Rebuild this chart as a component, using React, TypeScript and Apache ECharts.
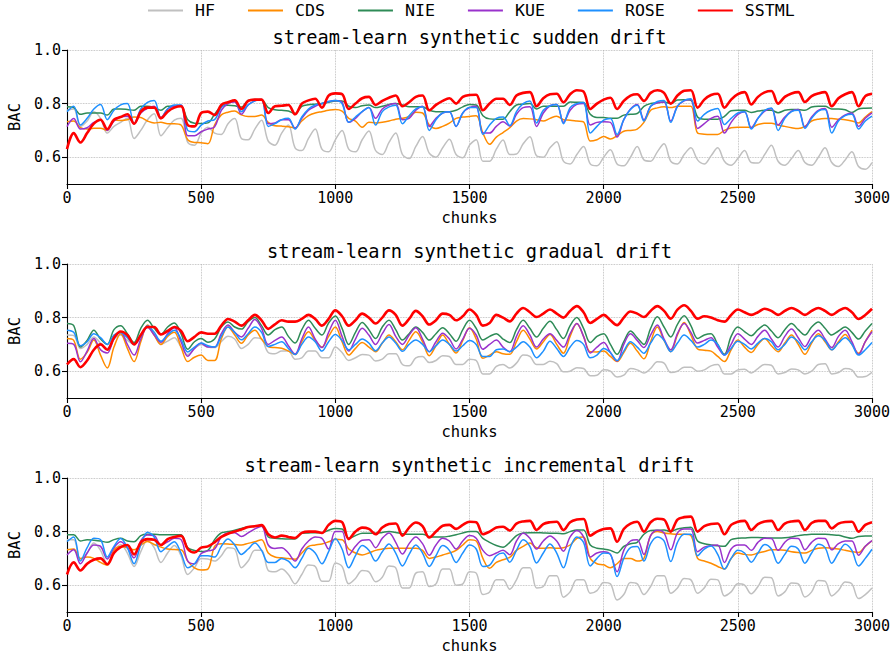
import React, { useEffect, useRef } from "react";
import * as echarts from "echarts";

// chunk positions at which the curves were read (every 25 chunks, 0..3000)
const chunks: number[] = Array.from({ length: 121 }, (_, i) => i * 25);

const methods = ["HF", "CDS", "NIE", "KUE", "ROSE", "SSTML"];
const colors = ["#c0c0c0", "#ff8c00", "#2e8b57", "#9932cc", "#1e90ff", "#ff0000"];
const titles = [
  "stream-learn synthetic sudden drift",
  "stream-learn synthetic gradual drift",
  "stream-learn synthetic incremental drift",
];
const xTicks = [0, 500, 1000, 1500, 2000, 2500, 3000];
const yTicks = [0.6, 0.8, 1.0];

// ---------- sudden drift ----------
const suddenHF = [
  0.775,0.78,0.715,0.735,0.77,0.745,0.69,0.715,0.73,0.745,0.67,0.70,0.74,0.762,0.68,0.71,0.738,0.745,0.655,0.645,
  0.69,0.712,0.69,0.685,0.725,0.744,0.67,0.665,0.705,0.738,0.66,0.645,0.69,0.72,0.635,0.625,0.67,0.705,0.63,0.62,
  0.665,0.70,0.63,0.62,0.665,0.698,0.625,0.61,0.655,0.69,0.61,0.595,0.64,0.677,0.615,0.60,0.635,0.667,0.61,0.598,
  0.645,0.665,0.585,0.585,0.63,0.664,0.61,0.612,0.65,0.676,0.605,0.60,0.635,0.658,0.585,0.575,0.61,0.64,0.575,0.568,
  0.60,0.628,0.575,0.568,0.60,0.64,0.59,0.585,0.62,0.65,0.585,0.575,0.61,0.635,0.59,0.575,0.605,0.635,0.585,0.57,
  0.595,0.625,0.58,0.578,0.61,0.645,0.585,0.57,0.595,0.625,0.58,0.57,0.60,0.635,0.58,0.565,0.59,0.62,0.565,0.555,
  0.58,
];
const suddenCDS = [
  0.732,0.735,0.71,0.705,0.708,0.708,0.70,0.738,0.737,0.74,0.75,0.748,0.735,0.728,0.73,0.725,0.725,0.72,0.665,0.655,
  0.654,0.65,0.72,0.758,0.768,0.772,0.758,0.752,0.752,0.757,0.73,0.717,0.716,0.714,0.71,0.735,0.755,0.765,0.77,0.775,
  0.778,0.772,0.745,0.735,0.712,0.73,0.728,0.73,0.735,0.742,0.745,0.752,0.768,0.765,0.72,0.707,0.715,0.727,0.745,0.75,
  0.752,0.755,0.69,0.648,0.675,0.692,0.71,0.735,0.744,0.743,0.74,0.735,0.745,0.753,0.74,0.738,0.735,0.732,0.66,0.665,
  0.677,0.668,0.68,0.697,0.70,0.705,0.73,0.775,0.784,0.788,0.785,0.79,0.79,0.79,0.69,0.686,0.685,0.685,0.70,0.71,
  0.712,0.712,0.711,0.722,0.727,0.727,0.72,0.715,0.71,0.707,0.715,0.735,0.742,0.744,0.744,0.742,0.74,0.735,0.728,0.75,
  0.77,
];
const suddenNIE = [
  0.788,0.785,0.76,0.765,0.765,0.765,0.757,0.78,0.78,0.778,0.775,0.79,0.79,0.785,0.775,0.79,0.79,0.79,0.74,0.727,
  0.726,0.728,0.76,0.79,0.794,0.792,0.787,0.812,0.815,0.814,0.785,0.777,0.775,0.772,0.763,0.79,0.796,0.798,0.80,0.805,
  0.81,0.81,0.79,0.785,0.792,0.795,0.785,0.79,0.797,0.80,0.795,0.788,0.788,0.788,0.775,0.77,0.77,0.77,0.775,0.788,
  0.797,0.795,0.755,0.743,0.742,0.742,0.77,0.795,0.798,0.80,0.78,0.79,0.79,0.79,0.79,0.806,0.805,0.804,0.76,0.748,
  0.748,0.745,0.745,0.757,0.76,0.763,0.79,0.80,0.803,0.806,0.80,0.813,0.814,0.812,0.75,0.742,0.742,0.742,0.752,0.773,
  0.775,0.775,0.767,0.772,0.775,0.775,0.766,0.775,0.778,0.778,0.775,0.787,0.79,0.79,0.78,0.78,0.777,0.767,0.78,0.783,
  0.784,
];
const suddenKUE = [
  0.714,0.744,0.705,0.71,0.73,0.738,0.70,0.735,0.75,0.753,0.725,0.765,0.782,0.79,0.748,0.78,0.79,0.794,0.68,0.68,
  0.695,0.705,0.713,0.775,0.80,0.806,0.76,0.795,0.81,0.815,0.725,0.728,0.74,0.74,0.708,0.745,0.775,0.79,0.80,0.808,
  0.812,0.805,0.73,0.745,0.77,0.785,0.745,0.78,0.795,0.80,0.74,0.745,0.775,0.79,0.715,0.745,0.765,0.77,0.715,0.765,
  0.785,0.79,0.69,0.69,0.715,0.732,0.716,0.76,0.785,0.788,0.715,0.765,0.792,0.797,0.73,0.775,0.797,0.80,0.72,0.73,
  0.732,0.73,0.675,0.74,0.78,0.797,0.74,0.79,0.803,0.806,0.735,0.79,0.81,0.815,0.707,0.725,0.745,0.753,0.69,0.73,
  0.76,0.77,0.71,0.745,0.772,0.782,0.72,0.75,0.772,0.778,0.713,0.75,0.775,0.782,0.712,0.74,0.758,0.765,0.715,0.745,
  0.765,
];
const suddenROSE = [
  0.77,0.79,0.72,0.745,0.78,0.797,0.74,0.775,0.795,0.80,0.725,0.78,0.805,0.812,0.745,0.78,0.795,0.795,0.70,0.695,
  0.72,0.735,0.74,0.785,0.805,0.81,0.77,0.795,0.81,0.815,0.715,0.725,0.74,0.745,0.705,0.75,0.78,0.795,0.80,0.808,
  0.812,0.80,0.73,0.75,0.77,0.785,0.72,0.77,0.788,0.794,0.725,0.755,0.78,0.788,0.70,0.74,0.765,0.77,0.715,0.765,
  0.785,0.785,0.685,0.72,0.745,0.75,0.718,0.77,0.80,0.81,0.728,0.775,0.792,0.797,0.725,0.785,0.80,0.804,0.69,0.715,
  0.738,0.744,0.685,0.74,0.778,0.794,0.735,0.79,0.808,0.812,0.73,0.79,0.812,0.818,0.735,0.76,0.775,0.782,0.722,0.745,
  0.765,0.77,0.705,0.745,0.775,0.784,0.70,0.745,0.77,0.775,0.708,0.745,0.772,0.778,0.69,0.735,0.755,0.76,0.705,0.735,
  0.753,
];
const suddenSSTML = [
  0.63,0.69,0.655,0.69,0.725,0.74,0.705,0.74,0.75,0.76,0.725,0.77,0.785,0.785,0.745,0.77,0.785,0.79,0.72,0.715,
  0.765,0.77,0.757,0.795,0.805,0.812,0.78,0.81,0.815,0.815,0.765,0.79,0.792,0.795,0.76,0.80,0.812,0.818,0.785,0.83,
  0.838,0.835,0.78,0.80,0.82,0.825,0.795,0.81,0.822,0.83,0.79,0.805,0.825,0.83,0.775,0.795,0.81,0.82,0.80,0.825,
  0.832,0.833,0.775,0.80,0.818,0.818,0.795,0.83,0.84,0.843,0.79,0.82,0.835,0.837,0.805,0.835,0.85,0.845,0.78,0.80,
  0.815,0.822,0.78,0.81,0.83,0.835,0.81,0.84,0.85,0.84,0.80,0.83,0.848,0.85,0.785,0.815,0.832,0.837,0.785,0.815,
  0.835,0.843,0.797,0.825,0.842,0.847,0.80,0.825,0.838,0.843,0.806,0.828,0.838,0.843,0.79,0.82,0.835,0.843,0.79,0.828,
  0.837,
];

// ---------- gradual drift ----------
const gradualHF = [
  0.735,0.733,0.685,0.70,0.728,0.705,0.685,0.72,0.735,0.715,0.70,0.735,0.762,0.735,0.70,0.712,0.725,0.69,0.662,0.685,
  0.70,0.69,0.688,0.71,0.73,0.72,0.685,0.70,0.725,0.72,0.67,0.665,0.675,0.675,0.645,0.65,0.675,0.675,0.65,0.65,
  0.69,0.67,0.64,0.65,0.662,0.66,0.638,0.645,0.665,0.665,0.625,0.62,0.65,0.655,0.632,0.64,0.658,0.655,0.625,0.625,
  0.645,0.64,0.59,0.59,0.618,0.625,0.612,0.63,0.66,0.655,0.625,0.625,0.637,0.628,0.598,0.60,0.613,0.61,0.583,0.585,
  0.605,0.60,0.578,0.585,0.61,0.605,0.593,0.61,0.635,0.63,0.595,0.60,0.615,0.615,0.60,0.605,0.62,0.625,0.59,0.59,
  0.605,0.607,0.593,0.61,0.625,0.622,0.59,0.595,0.608,0.605,0.59,0.60,0.625,0.628,0.59,0.595,0.61,0.605,0.578,0.58,
  0.596,
];
const gradualCDS = [
  0.722,0.715,0.645,0.67,0.716,0.66,0.612,0.69,0.74,0.685,0.636,0.71,0.772,0.735,0.70,0.73,0.745,0.69,0.636,0.652,
  0.66,0.64,0.64,0.72,0.765,0.735,0.704,0.735,0.753,0.72,0.692,0.688,0.686,0.675,0.662,0.71,0.747,0.715,0.69,0.73,
  0.765,0.71,0.66,0.685,0.707,0.69,0.673,0.705,0.735,0.71,0.68,0.715,0.747,0.71,0.658,0.695,0.735,0.70,0.668,0.715,
  0.762,0.72,0.648,0.66,0.673,0.665,0.663,0.71,0.753,0.72,0.683,0.71,0.737,0.70,0.667,0.73,0.778,0.73,0.673,0.672,
  0.675,0.655,0.636,0.67,0.704,0.675,0.646,0.71,0.765,0.715,0.673,0.735,0.782,0.735,0.683,0.678,0.675,0.655,0.636,0.68,
  0.716,0.69,0.67,0.70,0.722,0.695,0.673,0.705,0.735,0.70,0.663,0.705,0.74,0.71,0.68,0.71,0.737,0.70,0.667,0.71,
  0.753,
];
const gradualNIE = [
  0.778,0.77,0.69,0.715,0.753,0.72,0.70,0.755,0.77,0.74,0.707,0.76,0.79,0.76,0.737,0.765,0.78,0.74,0.682,0.71,
  0.722,0.708,0.72,0.765,0.784,0.765,0.757,0.785,0.80,0.77,0.735,0.755,0.765,0.73,0.705,0.755,0.79,0.76,0.735,0.78,
  0.806,0.76,0.70,0.745,0.782,0.755,0.722,0.765,0.79,0.755,0.716,0.74,0.765,0.745,0.716,0.74,0.762,0.74,0.712,0.755,
  0.79,0.76,0.716,0.73,0.74,0.72,0.707,0.755,0.79,0.76,0.728,0.76,0.786,0.755,0.722,0.77,0.80,0.76,0.707,0.73,
  0.74,0.70,0.663,0.71,0.75,0.725,0.70,0.76,0.803,0.765,0.728,0.775,0.807,0.77,0.722,0.735,0.74,0.70,0.663,0.73,
  0.765,0.748,0.732,0.755,0.772,0.75,0.725,0.755,0.778,0.755,0.735,0.765,0.784,0.76,0.735,0.75,0.765,0.745,0.72,0.75,
  0.778,
];
const gradualKUE = [
  0.704,0.70,0.635,0.675,0.722,0.68,0.668,0.72,0.745,0.70,0.66,0.72,0.765,0.735,0.708,0.74,0.762,0.71,0.656,0.685,
  0.704,0.69,0.69,0.74,0.772,0.745,0.728,0.76,0.793,0.76,0.70,0.715,0.728,0.695,0.664,0.72,0.765,0.72,0.688,0.745,
  0.79,0.73,0.675,0.72,0.76,0.735,0.70,0.74,0.774,0.73,0.70,0.735,0.762,0.72,0.673,0.71,0.742,0.72,0.683,0.72,
  0.76,0.735,0.682,0.70,0.716,0.69,0.673,0.73,0.77,0.735,0.69,0.72,0.74,0.715,0.69,0.74,0.778,0.73,0.668,0.69,
  0.707,0.67,0.638,0.70,0.74,0.715,0.688,0.735,0.772,0.72,0.68,0.74,0.778,0.745,0.705,0.715,0.725,0.69,0.66,0.70,
  0.74,0.72,0.70,0.73,0.753,0.72,0.69,0.73,0.757,0.725,0.692,0.73,0.753,0.72,0.688,0.73,0.753,0.71,0.663,0.71,
  0.747,
];
const gradualROSE = [
  0.753,0.745,0.695,0.71,0.74,0.725,0.70,0.735,0.744,0.725,0.70,0.73,0.77,0.745,0.712,0.735,0.753,0.72,0.672,0.69,
  0.705,0.695,0.69,0.73,0.765,0.745,0.717,0.74,0.765,0.745,0.692,0.70,0.71,0.685,0.662,0.70,0.728,0.71,0.675,0.71,
  0.737,0.715,0.68,0.70,0.72,0.705,0.676,0.705,0.728,0.705,0.674,0.70,0.716,0.70,0.673,0.695,0.716,0.70,0.675,0.695,
  0.715,0.70,0.655,0.655,0.68,0.683,0.673,0.69,0.71,0.69,0.65,0.675,0.712,0.685,0.655,0.69,0.715,0.70,0.65,0.66,
  0.685,0.67,0.64,0.675,0.71,0.69,0.667,0.705,0.737,0.715,0.673,0.705,0.735,0.715,0.69,0.70,0.716,0.70,0.66,0.685,
  0.712,0.70,0.683,0.705,0.722,0.71,0.68,0.70,0.728,0.71,0.68,0.71,0.732,0.715,0.68,0.705,0.725,0.70,0.66,0.68,
  0.707,
];
const gradualSSTML = [
  0.625,0.645,0.615,0.64,0.68,0.70,0.68,0.725,0.748,0.735,0.70,0.735,0.765,0.765,0.737,0.75,0.765,0.75,0.712,0.728,
  0.745,0.74,0.74,0.77,0.795,0.785,0.77,0.79,0.81,0.79,0.758,0.775,0.79,0.785,0.785,0.795,0.81,0.795,0.77,0.795,
  0.827,0.805,0.77,0.79,0.815,0.80,0.778,0.80,0.827,0.81,0.77,0.795,0.825,0.805,0.774,0.79,0.815,0.81,0.79,0.805,
  0.83,0.81,0.77,0.78,0.81,0.80,0.786,0.815,0.836,0.82,0.802,0.815,0.83,0.815,0.80,0.825,0.843,0.82,0.78,0.795,
  0.81,0.79,0.772,0.80,0.823,0.815,0.802,0.825,0.843,0.825,0.796,0.83,0.846,0.825,0.796,0.805,0.80,0.79,0.785,0.81,
  0.83,0.82,0.81,0.82,0.833,0.825,0.81,0.825,0.836,0.825,0.81,0.825,0.836,0.825,0.81,0.825,0.836,0.82,0.795,0.81,
  0.833,
];

// ---------- incremental drift ----------
const incrementalHF = [
  0.77,0.77,0.695,0.72,0.757,0.73,0.68,0.725,0.752,0.72,0.67,0.725,0.768,0.74,0.685,0.72,0.748,0.71,0.64,0.665,
  0.70,0.698,0.69,0.71,0.74,0.735,0.665,0.69,0.73,0.73,0.655,0.65,0.66,0.64,0.605,0.64,0.675,0.67,0.615,0.615,
  0.683,0.67,0.605,0.625,0.655,0.65,0.613,0.63,0.672,0.665,0.59,0.59,0.645,0.65,0.595,0.605,0.66,0.66,0.60,0.605,
  0.65,0.645,0.565,0.575,0.62,0.62,0.585,0.62,0.665,0.665,0.59,0.595,0.635,0.635,0.555,0.575,0.62,0.62,0.57,0.58,
  0.61,0.605,0.545,0.565,0.61,0.605,0.565,0.595,0.635,0.635,0.57,0.59,0.625,0.62,0.57,0.59,0.622,0.62,0.56,0.575,
  0.605,0.60,0.568,0.595,0.63,0.628,0.56,0.575,0.608,0.605,0.556,0.575,0.618,0.615,0.56,0.58,0.612,0.605,0.55,0.565,
  0.59,
];
const incrementalCDS = [
  0.732,0.735,0.70,0.705,0.70,0.685,0.675,0.732,0.744,0.74,0.732,0.75,0.763,0.752,0.742,0.735,0.733,0.732,0.69,0.665,
  0.657,0.66,0.745,0.755,0.754,0.752,0.75,0.756,0.762,0.77,0.72,0.705,0.702,0.70,0.697,0.72,0.745,0.75,0.754,0.762,
  0.771,0.77,0.735,0.72,0.713,0.72,0.73,0.735,0.738,0.738,0.738,0.738,0.738,0.73,0.70,0.705,0.713,0.72,0.73,0.75,
  0.77,0.765,0.70,0.663,0.685,0.695,0.704,0.73,0.745,0.757,0.74,0.738,0.74,0.738,0.74,0.75,0.775,0.78,0.70,0.68,
  0.676,0.665,0.68,0.70,0.70,0.69,0.70,0.785,0.80,0.795,0.792,0.79,0.79,0.785,0.70,0.69,0.682,0.67,0.66,0.70,
  0.72,0.715,0.713,0.72,0.726,0.732,0.732,0.73,0.725,0.722,0.72,0.73,0.738,0.74,0.738,0.735,0.73,0.725,0.722,0.745,
  0.766,
];
const incrementalNIE = [
  0.788,0.788,0.765,0.77,0.768,0.765,0.76,0.77,0.775,0.765,0.762,0.785,0.79,0.79,0.788,0.788,0.788,0.788,0.74,0.73,
  0.726,0.73,0.77,0.795,0.80,0.805,0.812,0.818,0.82,0.82,0.78,0.775,0.773,0.772,0.772,0.794,0.795,0.796,0.796,0.805,
  0.812,0.81,0.775,0.785,0.794,0.794,0.794,0.797,0.80,0.797,0.792,0.79,0.79,0.79,0.782,0.78,0.78,0.783,0.788,0.795,
  0.80,0.80,0.775,0.76,0.748,0.742,0.76,0.785,0.795,0.796,0.796,0.795,0.794,0.794,0.792,0.80,0.806,0.806,0.75,0.738,
  0.735,0.73,0.72,0.745,0.755,0.76,0.79,0.804,0.805,0.806,0.80,0.81,0.814,0.816,0.765,0.755,0.75,0.747,0.745,0.77,
  0.775,0.776,0.778,0.778,0.777,0.776,0.776,0.777,0.78,0.785,0.788,0.79,0.79,0.79,0.788,0.786,0.78,0.775,0.782,0.784,
  0.784,
];
const incrementalKUE = [
  0.713,0.732,0.68,0.72,0.75,0.745,0.698,0.74,0.762,0.74,0.702,0.765,0.787,0.785,0.75,0.762,0.775,0.77,0.69,0.68,
  0.718,0.728,0.735,0.78,0.795,0.796,0.782,0.795,0.81,0.82,0.75,0.737,0.74,0.72,0.69,0.735,0.765,0.78,0.775,0.735,
  0.80,0.80,0.712,0.745,0.768,0.77,0.74,0.775,0.795,0.76,0.716,0.755,0.78,0.755,0.712,0.75,0.775,0.765,0.735,0.765,
  0.785,0.775,0.73,0.71,0.72,0.73,0.714,0.765,0.794,0.775,0.735,0.765,0.784,0.765,0.727,0.78,0.804,0.78,0.705,0.72,
  0.725,0.715,0.65,0.73,0.765,0.77,0.715,0.785,0.805,0.795,0.732,0.795,0.81,0.81,0.725,0.742,0.748,0.75,0.685,0.735,
  0.75,0.75,0.73,0.76,0.775,0.774,0.73,0.76,0.775,0.774,0.732,0.76,0.775,0.774,0.732,0.755,0.765,0.765,0.712,0.745,
  0.766,
];
const incrementalROSE = [
  0.763,0.78,0.69,0.74,0.775,0.77,0.705,0.745,0.774,0.74,0.68,0.75,0.798,0.78,0.725,0.745,0.762,0.72,0.665,0.68,
  0.71,0.71,0.705,0.745,0.772,0.75,0.715,0.735,0.757,0.73,0.685,0.685,0.70,0.69,0.665,0.70,0.738,0.72,0.68,0.725,
  0.773,0.735,0.665,0.71,0.748,0.73,0.69,0.725,0.754,0.72,0.672,0.715,0.75,0.72,0.67,0.71,0.748,0.73,0.685,0.72,
  0.75,0.735,0.67,0.675,0.71,0.72,0.686,0.73,0.77,0.745,0.683,0.72,0.754,0.72,0.665,0.74,0.78,0.76,0.672,0.70,
  0.72,0.715,0.632,0.70,0.74,0.744,0.69,0.755,0.78,0.765,0.688,0.76,0.79,0.79,0.71,0.735,0.746,0.715,0.66,0.70,
  0.73,0.72,0.686,0.72,0.752,0.735,0.682,0.715,0.745,0.735,0.682,0.72,0.753,0.74,0.682,0.72,0.753,0.73,0.672,0.70,
  0.734,
];
const incrementalSSTML = [
  0.64,0.685,0.655,0.68,0.695,0.70,0.678,0.72,0.742,0.75,0.715,0.76,0.772,0.77,0.75,0.772,0.78,0.784,0.735,0.722,
  0.74,0.745,0.76,0.78,0.792,0.80,0.808,0.817,0.82,0.824,0.79,0.778,0.785,0.78,0.776,0.795,0.80,0.80,0.795,0.825,
  0.84,0.835,0.772,0.80,0.815,0.81,0.79,0.815,0.828,0.83,0.785,0.815,0.834,0.82,0.778,0.80,0.822,0.825,0.81,0.825,
  0.837,0.835,0.79,0.80,0.815,0.818,0.804,0.83,0.838,0.84,0.806,0.828,0.835,0.837,0.806,0.835,0.845,0.847,0.785,0.80,
  0.81,0.812,0.762,0.81,0.83,0.837,0.80,0.835,0.848,0.845,0.80,0.845,0.854,0.856,0.80,0.82,0.828,0.83,0.79,0.825,
  0.837,0.84,0.806,0.828,0.838,0.84,0.806,0.83,0.838,0.84,0.806,0.832,0.84,0.84,0.812,0.83,0.836,0.837,0.80,0.825,
  0.835,
];

const panelData = [
  [suddenHF, suddenCDS, suddenNIE, suddenKUE, suddenROSE, suddenSSTML],
  [gradualHF, gradualCDS, gradualNIE, gradualKUE, gradualROSE, gradualSSTML],
  [incrementalHF, incrementalCDS, incrementalNIE, incrementalKUE, incrementalROSE, incrementalSSTML],
];

const FONT = '"DejaVu Sans Mono", monospace';
const gridTops = [50, 264, 478];
const gridHeight = 134;
const gridLeft = 67;
const gridRight = 21;

export default function App() {
  const ref = useRef<HTMLDivElement>(null);
  useEffect(() => {
    if (!ref.current) return;
    const chart = echarts.init(ref.current, undefined, { renderer: "svg" });

    const grids = gridTops.map((t) => ({
      left: gridLeft,
      right: gridRight,
      top: t,
      height: gridHeight,
      containLabel: false,
      outerBoundsMode: "none",
    }));

    const axisLine = { show: true, onZero: false, lineStyle: { color: "#000", width: 1.1 } };
    const axisTickStyle = { color: "#000", width: 1.1 };
    const splitLine = { show: true, lineStyle: { color: "#b0b0b0", type: "dotted", width: 0.8 } };

    const xAxes = gridTops.map((_, i) => ({
      type: "value",
      gridIndex: i,
      min: xTicks[0],
      max: xTicks[xTicks.length - 1],
      interval: 500,
      axisLine,
      axisTick: { show: true, inside: false, length: 5, lineStyle: axisTickStyle },
      axisLabel: {
        color: "#000",
        fontFamily: FONT,
        fontSize: 15,
        margin: 6,
        formatter: (v: number) => String(v),
      },
      splitLine,
      name: "chunks",
      nameLocation: "middle",
      nameGap: 26,
      nameTextStyle: { color: "#000", fontFamily: FONT, fontSize: 15.5 },
    }));

    const yAxes = gridTops.map((_, i) => ({
      type: "value",
      gridIndex: i,
      min: 0.5,
      max: 1.0,
      axisLine,
      axisTick: { show: true, inside: false, length: 5, lineStyle: axisTickStyle, customValues: yTicks },
      axisLabel: {
        color: "#000",
        fontFamily: FONT,
        fontSize: 15,
        margin: 6,
        customValues: yTicks,
        formatter: (v: number) => v.toFixed(1),
      },
      splitLine,
      name: "BAC",
      nameLocation: "middle",
      nameRotate: 90,
      nameGap: 27,
      nameTextStyle: { color: "#000", fontFamily: FONT, fontSize: 15.5 },
    }));

    const series: any[] = [];
    panelData.forEach((sets, p) => {
      sets.forEach((vals, m) => {
        series.push({
          name: methods[m],
          type: "line",
          xAxisIndex: p,
          yAxisIndex: p,
          data: chunks.map((c, i) => [c, vals[i]]),
          symbol: "none",
          showSymbol: false,
          smooth: 0.35,
          lineStyle: { color: colors[m], width: methods[m] === "SSTML" ? 2.6 : 1.5 },
          itemStyle: { color: colors[m] },
          z: 2 + m,
        });
      });
    });

    const titleComps = titles.map((t, i) => ({
      text: t,
      left: gridLeft + (893 - gridLeft - gridRight) / 2,
      top: gridTops[i] - 22,
      textAlign: "center",
      padding: 0,
      textStyle: { color: "#000", fontFamily: FONT, fontSize: 18.7, fontWeight: "normal" },
    }));

    chart.setOption({
      animation: false,
      backgroundColor: "#fff",
      title: titleComps,
      legend: {
        data: methods,
        left: 148,
        top: 2,
        padding: 0,
        icon: "rect",
        itemWidth: 35,
        itemHeight: 2,
        itemGap: 33,
        textStyle: { color: "#000", fontFamily: FONT, fontSize: 16.6, padding: [0, 0, 0, 7] },
      },
      grid: grids,
      xAxis: xAxes,
      yAxis: yAxes,
      series,
    });

    return () => chart.dispose();
  }, []);

  return (
    <div
      ref={ref}
      style={{ position: "absolute", left: 0, top: 0, width: 893, height: 658 }}
    />
  );
}
